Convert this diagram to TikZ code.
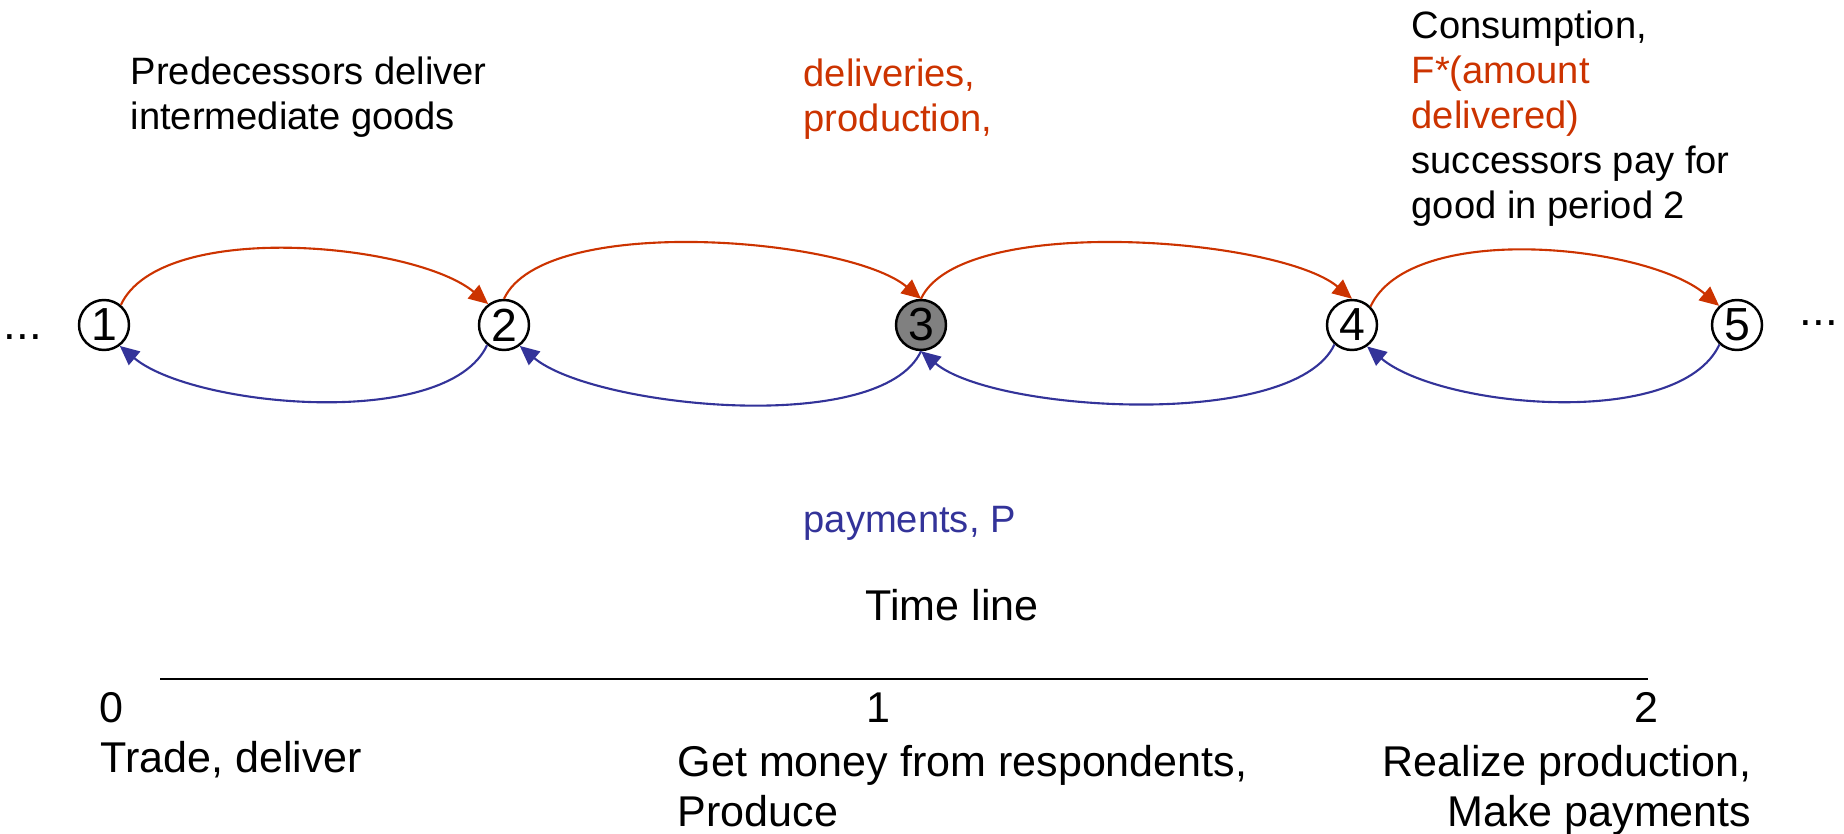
\documentclass[tikz,border=0pt]{standalone}
\usepackage{fontspec}
\setmainfont{Liberation Sans}
\usetikzlibrary{arrows.meta, positioning}

\definecolor{deliveryRed}{RGB}{204,51,0}
\definecolor{paymentBlue}{RGB}{51,51,153}

\begin{document}
\begin{tikzpicture}[
    stage/.style={circle, draw, line width=0.7pt, minimum size=0.5cm, inner sep=0pt,
        font=\fontsize{13.2}{14}\selectfont},
    topText/.style={inner sep=0pt, align=left, font=\fontsize{10.85}{12.8}\selectfont},
    bottomText/.style={inner sep=0pt, font=\fontsize{12.25}{14.2}\selectfont},
    delivery/.style={->, >={Triangle[length=5.5pt, width=5pt]}, deliveryRed,
        line width=0.6pt, out=65, in=140, distance=0.95cm},
    payment/.style={->, >={Triangle[length=5.5pt, width=5pt]}, paymentBlue,
        line width=0.6pt, out=-115, in=-40, distance=0.95cm}
        ]
    \useasboundingbox (0, 0) rectangle (18.44, 8.34);

    % chain of firms
    \node[stage] (n1) at (1.04, 5.09) {1};
    \node[stage] (n2) at (5.04, 5.09) {2};
    \node[stage, fill=gray] (n3) at (9.21, 5.09) {3};
    \node[stage] (n4) at (13.52, 5.09) {4};
    \node[stage] (n5) at (17.37, 5.09) {5};

    \node[anchor=base west, inner sep=0pt, font=\fontsize{13}{14}\selectfont] (dotsLeft) at (0.03, 4.94) {...};
    \node[anchor=base west, inner sep=0pt, font=\fontsize{13}{14}\selectfont] (dotsRight) at (17.99, 5.08) {...};

    \draw[delivery] (n1.50) to (n2.127);
    \draw[delivery] (n2.north) to (n3.north);
    \draw[delivery] (n3.north) to (n4.north);
    \draw[delivery] (n4.45) to (n5.133);

    \draw[payment] (n2.-130) to (n1.-53);
    \draw[payment] (n3.south) to (n2.-53);
    \draw[payment] (n4.-132) to (n3.south);
    \draw[payment] (n5.-132) to (n4.-55);

    % labels
    \node[topText, anchor=north west] (pred) at (1.30, 7.78) {Predecessors deliver\\intermediate goods};
    \node[topText, anchor=north west, deliveryRed] (deliv) at (8.03, 7.76) {deliveries,\\production,};
    \node[topText, anchor=north west] (cons) at (14.11, 8.24) {Consumption,\\
        \textcolor{deliveryRed}{F*(amount}\\
        \textcolor{deliveryRed}{delivered)}\\
        successors pay for\\
        good in period 2};
    \node[topText, anchor=base west, paymentBlue] (pay) at (8.03, 3.01) {payments, P};

    % time line
    \node[bottomText, anchor=base west] (title) at (8.65, 2.13) {Time line};
    \coordinate (lineStart) at (1.60, 1.55);
    \coordinate (lineEnd) at (16.48, 1.55);
    \draw[line width=0.8pt] (lineStart) -- (lineEnd);

    \node[bottomText, anchor=base west] (t0) at (0.99, 1.12) {0};
    \node[bottomText, anchor=base west] (t1) at (8.66, 1.12) {1};
    \node[bottomText, anchor=base west] (t2) at (16.34, 1.12) {2};

    \node[bottomText, anchor=base west] (act0) at (1.00, 0.61) {Trade, deliver};
    \node[bottomText, anchor=north west, align=left] (act1) at (6.77, 0.89) {Get money from respondents,\\Produce};
    \node[bottomText, anchor=north east, align=right] (act2) at (17.52, 0.89) {Realize production,\\Make payments};
\end{tikzpicture}
\end{document}
